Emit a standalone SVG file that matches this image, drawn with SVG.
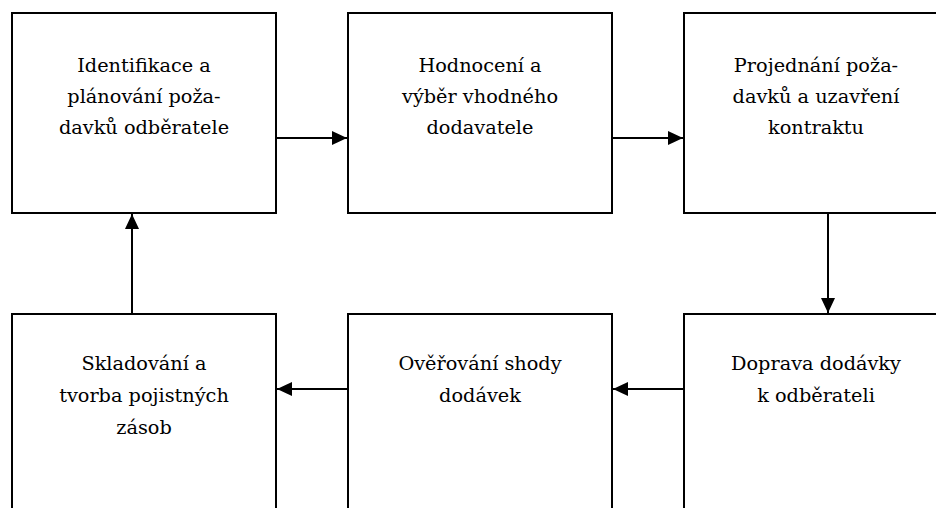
<svg xmlns="http://www.w3.org/2000/svg" width="936" height="508" viewBox="0 0 936 508">
<style>
.box{fill:#fff;stroke:#000;stroke-width:2}
.c{stroke:#000;stroke-width:2;fill:none}
</style>
<defs>
<marker id="ah" markerWidth="15" markerHeight="14" refX="15" refY="7" orient="auto" markerUnits="userSpaceOnUse">
<path d="M0,0 L15,7 L0,14 Z" fill="#000"/>
</marker>
</defs>
<rect width="936" height="508" fill="#fff"/>
<g font-family="DejaVu Serif, Liberation Serif, serif" font-size="19.3" text-anchor="middle" fill="#000">
<g id="n1"><rect class="box" x="12" y="13" width="264" height="200"/>
<text x="144" y="72">Identifikace a</text><text x="144" y="103">plánování poža-</text><text x="144" y="134">davků odběratele</text></g>
<g id="n2"><rect class="box" x="348" y="13" width="264" height="200"/>
<text x="480" y="72">Hodnocení a</text><text x="480" y="103">výběr vhodného</text><text x="480" y="134">dodavatele</text></g>
<g id="n3"><rect class="box" x="684" y="13" width="264" height="200"/>
<text x="816" y="72">Projednání poža-</text><text x="816" y="103">davků a uzavření</text><text x="816" y="134">kontraktu</text></g>
<g id="n4"><rect class="box" x="684" y="314" width="264" height="220"/>
<text x="816" y="370">Doprava dodávky</text><text x="816" y="402">k odběrateli</text></g>
<g id="n5"><rect class="box" x="348" y="314" width="264" height="220"/>
<text x="480" y="370">Ověřování shody</text><text x="480" y="402">dodávek</text></g>
<g id="n6"><rect class="box" x="12" y="314" width="264" height="220"/>
<text x="144" y="370">Skladování a</text><text x="144" y="402">tvorba pojistných</text><text x="144" y="434">zásob</text></g>
</g>
<g id="connectors">
<line class="c" x1="276" y1="138" x2="347" y2="138" marker-end="url(#ah)"/>
<line class="c" x1="612" y1="138" x2="683" y2="138" marker-end="url(#ah)"/>
<line class="c" x1="828" y1="213" x2="828" y2="313" marker-end="url(#ah)"/>
<line class="c" x1="684" y1="389" x2="613" y2="389" marker-end="url(#ah)"/>
<line class="c" x1="348" y1="389" x2="277" y2="389" marker-end="url(#ah)"/>
<line class="c" x1="132" y1="314" x2="132" y2="214" marker-end="url(#ah)"/>
</g>
</svg>
